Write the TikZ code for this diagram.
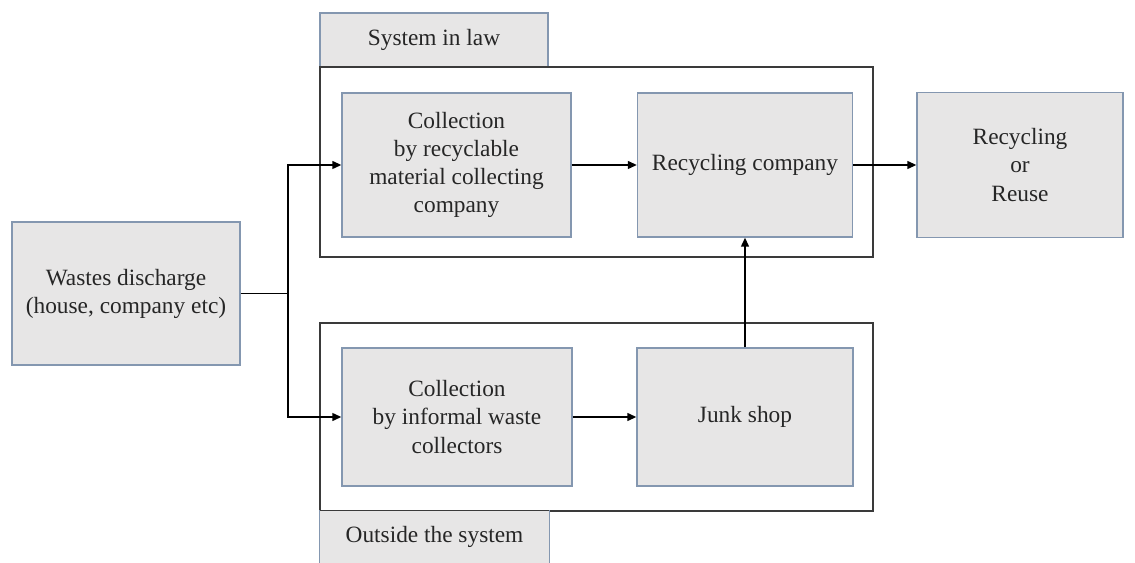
\documentclass[tikz,border=0pt]{standalone}
\usepackage{fontspec}
\setmainfont{Liberation Serif}
\usetikzlibrary{calc}
\usetikzlibrary{arrows.meta}
\definecolor{grey}{HTML}{E7E6E6}
\definecolor{steel}{HTML}{8497B0}
\definecolor{dark}{HTML}{3A3A3A}
\definecolor{ink}{HTML}{262626}
\def\px{0.025cm}

\tikzset{
  box/.style={draw=steel, line width=0.8pt, fill=grey, align=center, inner sep=0pt,
    text=ink, font=\fontsize{16.6}{20}\selectfont},
  sysframe/.style={draw=dark, line width=1.3pt, fill=white},
  flow/.style={line width=1.4pt, -{Triangle[length=6.5pt,width=5.5pt]}},
}

\begin{document}
\begin{tikzpicture}[x=\px, y=-\px]
\useasboundingbox (0,0) rectangle (1135,563);

% system in law

\node[box, minimum width=228*\px, minimum height=54*\px] (T) at (434,40) {System in law};
\draw[sysframe] (320,67) rectangle (873,257);

\node[box, minimum width=229*\px, minimum height=144*\px] (C) at (456.5,165)
  {Collection\\by recyclable\\material collecting\\company};
\node[box, minimum width=215*\px, minimum height=144*\px] (R) at (745,165) {Recycling company};

% outside the system

\draw[sysframe] (320,323) rectangle (873,511);
\node[box, draw=none, minimum width=229*\px, minimum height=52*\px] (O) at (434.5,537) {Outside the system};
\draw[steel, line width=0.8pt] (O.south west) -- (O.north west);
\draw[steel, line width=0.8pt] (O.south east) -- (O.north east);

\node[box, minimum width=230*\px, minimum height=138*\px] (I) at (457,417)
  {Collection\\by informal waste\\collectors};
\node[box, minimum width=216*\px, minimum height=138*\px] (J) at (745,417) {Junk shop};

% outside the frames

\node[box, minimum width=228*\px, minimum height=143*\px] (W) at (126,293.5)
  {Wastes discharge\\(house, company etc)};
\node[box, minimum width=206*\px, minimum height=145*\px] (U) at (1020,165)
  {Recycling\\or\\Reuse};

% arrows

\coordinate (Y) at ($(W.east) + (47,0)$);
\draw[line width=1.4pt] (W.east) -- (Y);
\draw[flow] (Y) |- (C.west);
\draw[flow] (Y) |- (I.west);
\draw[flow] (C) -- (R);
\draw[flow] (R) -- (U);
\draw[flow] (I) -- (J);
\draw[flow] (J) -- (R);

\end{tikzpicture}
\end{document}
